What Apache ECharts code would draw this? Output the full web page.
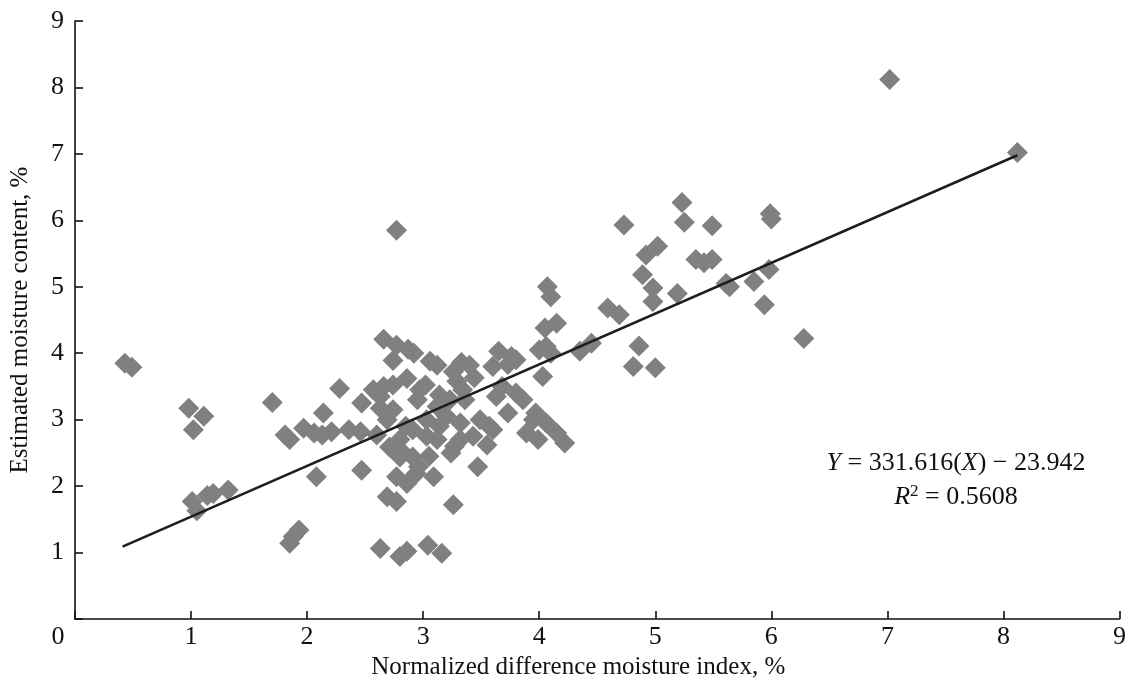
<!DOCTYPE html>
<html>
<head>
<meta charset="utf-8">
<script src="https://cdn.jsdelivr.net/npm/echarts@6/dist/echarts.min.js"></script>
<style>
html,body{margin:0;padding:0;background:#fff;}
#chart{width:1129px;height:685px;}
</style>
</head>
<body>
<div id="chart"></div>
<script>
// NDMI (%) values
var ndmi = [
0.43,0.49,0.98,1.11,1.02,1.01,1.05,1.14,1.19,1.32,
1.70,1.81,1.85,1.93,1.88,1.85,2.08,1.97,2.06,2.14,
2.13,2.21,2.36,2.28,2.46,2.47,2.47,2.57,2.63,2.63,
2.80,2.86,3.04,3.16,2.66,2.69,2.77,3.26,3.09,2.77,
2.77,2.87,2.92,2.74,3.06,3.12,3.26,3.33,3.40,3.44,
2.74,2.86,2.97,3.02,3.14,3.23,3.36,2.74,2.63,2.60,
2.71,2.80,2.77,2.86,2.94,2.91,3.12,3.03,3.14,3.24,
3.12,3.20,3.03,3.32,2.80,2.69,2.96,2.91,2.80,3.49,
3.57,3.43,3.32,3.27,3.47,3.65,3.76,3.60,3.73,3.80,
3.63,3.80,3.86,3.73,3.89,3.97,4.06,4.15,4.22,3.99,
4.03,4.05,4.15,4.07,4.10,4.00,4.06,4.10,4.35,4.45,
4.59,4.69,4.73,5.23,5.25,5.49,5.99,6.00,4.92,5.02,
4.89,4.98,4.98,5.19,5.35,5.42,5.49,5.61,5.64,5.85,
5.98,5.94,6.28,4.86,4.81,5.00,7.02,8.12,3.34,3.29,
2.66,3.55,3.95,3.60,3.68,2.95,3.05,2.85
];
// Estimated moisture content (%) values
var moisture = [
3.85,3.79,3.17,3.05,2.85,1.77,1.63,1.86,1.89,1.94,
3.26,2.77,2.70,1.34,1.24,1.14,2.14,2.87,2.80,3.10,
2.77,2.82,2.85,3.47,2.82,2.24,3.25,3.45,3.35,1.06,
0.94,1.02,1.11,0.99,4.21,1.84,1.77,1.72,2.14,5.85,
4.12,4.06,4.00,3.89,3.88,3.82,3.72,3.86,3.82,3.63,
3.52,3.62,3.45,3.52,3.37,3.30,3.30,3.15,3.17,2.77,
2.59,2.44,2.14,2.04,2.19,2.85,2.70,3.00,2.90,2.50,
3.20,3.05,2.75,2.95,2.70,3.00,2.29,2.44,2.55,3.00,
2.90,2.75,2.70,2.60,2.29,4.03,3.95,3.80,3.83,3.90,
3.35,3.40,3.30,3.10,2.80,3.10,2.95,2.80,2.65,2.70,
3.65,4.38,4.45,5.00,4.85,4.05,4.10,4.00,4.03,4.15,
4.68,4.58,5.93,6.27,5.97,5.92,6.10,6.02,5.48,5.61,
5.18,4.98,4.78,4.90,5.41,5.36,5.41,5.05,5.00,5.08,
5.26,4.73,4.22,4.11,3.80,3.78,8.12,7.02,3.45,3.58,
3.50,2.62,3.00,2.85,3.50,3.30,2.45,2.90
];
// regression line end points
var fitX = [0.41, 8.12];
var fitY = [1.09, 6.98];
var axisTicks = [0,1,2,3,4,5,6,7,8,9];
var xTitle = 'Normalized difference moisture index, %';
var yTitle = 'Estimated moisture content, %';

var pts = ndmi.map(function(x,i){return [x, moisture[i]];});
var fit = fitX.map(function(x,i){return [x, fitY[i]];});

var FONT = '"Liberation Serif", "Times New Roman", serif';
var chart = echarts.init(document.getElementById('chart'), null, {renderer:'canvas'});
var axisCommon = {
  min: 0, max: 9, interval: 1,
  axisLine: {show:true, onZero:false, lineStyle:{color:'#111', width:1.6}},
  axisTick: {show:true, inside:true, length:8, lineStyle:{color:'#111', width:1.6}},
  splitLine: {show:false},
  nameLocation: 'middle'
};
chart.setOption({
  animation: false,
  backgroundColor: '#fff',
  grid: {left:74, right:7, top:21, bottom:66, containLabel:false},
  xAxis: Object.assign({}, axisCommon, {
    type:'value',
    name: xTitle,
    nameGap: 35,
    nameTextStyle: {fontFamily:FONT, fontSize:25, color:'#111', padding:[0,38,0,0]},
    axisLabel: {
      margin: 5, color:'#111', fontFamily:FONT, fontSize:26,
      formatter: function(v){ return v===0 ? '{z|0}' : String(v); },
      rich: {z:{fontFamily:FONT, fontSize:26, color:'#111', padding:[0,34,0,0]}}
    }
  }),
  yAxis: Object.assign({}, axisCommon, {
    type:'value',
    name: yTitle,
    nameGap: 42,
    nameRotate: 90,
    nameTextStyle: {fontFamily:FONT, fontSize:25, color:'#111'},
    axisLabel: {
      margin: 11, color:'#111', fontFamily:FONT, fontSize:26,
      formatter: function(v){ return v===0 ? '' : String(v); }
    }
  }),
  series: [
    {
      type:'scatter', data: pts, symbol:'diamond', symbolSize:21,
      itemStyle:{color:'#808080', opacity:1}, z:2
    },
    {
      type:'line', data: fit, symbol:'none',
      lineStyle:{color:'#1e1e1e', width:2.6}, z:3
    }
  ],
  graphic: [
    {
      type:'text', x:956, y:463,
      style:{
        text:'{i|Y} = 331.616({i|X}) − 23.942',
        fontFamily:FONT, fontSize:26, fill:'#111',
        textAlign:'center', textVerticalAlign:'middle',
        rich:{i:{fontFamily:FONT, fontSize:26, fontStyle:'italic', fill:'#111'}}
      }
    },
    {
      type:'text', x:956, y:497,
      style:{
        text:'{i|R}{s|2} = 0.5608',
        fontFamily:FONT, fontSize:26, fill:'#111',
        textAlign:'center', textVerticalAlign:'middle',
        rich:{
          i:{fontFamily:FONT, fontSize:26, fontStyle:'italic', fill:'#111'},
          s:{fontFamily:FONT, fontSize:17, fill:'#111', verticalAlign:'top', padding:[0,0,11,0]}
        }
      }
    }
  ]
});
</script>
</body>
</html>
